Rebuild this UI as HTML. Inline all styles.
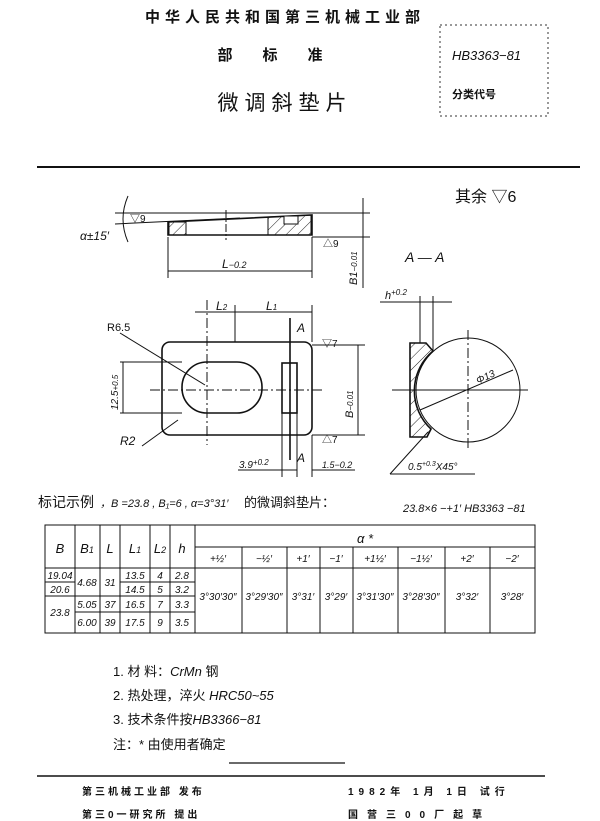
<!DOCTYPE html>
<html><head><meta charset="utf-8"><style>
body{margin:0;background:#fff;}
svg{display:block}
text{font-family:"Liberation Sans","Noto Sans CJK SC",sans-serif;fill:#111}
.it{font-style:italic}
</style></head><body>
<svg width="600" height="821" viewBox="0 0 600 821" xmlns="http://www.w3.org/2000/svg">
<defs>
<pattern id="h" width="8" height="8" patternUnits="userSpaceOnUse" patternTransform="rotate(45)"><line x1="0" y1="0" x2="0" y2="8" stroke="#222" stroke-width="1"/></pattern>
</defs>
<!-- header -->
<text x="285" y="22" font-size="15" font-weight="bold" text-anchor="middle" letter-spacing="5">中华人民共和国第三机械工业部</text>
<text x="285" y="60" font-size="15" font-weight="bold" text-anchor="middle" letter-spacing="30">部标准</text>
<text x="285" y="110" font-size="21" text-anchor="middle" letter-spacing="6">微调斜垫片</text>
<rect x="440" y="25" width="108" height="91" fill="none" stroke="#333" stroke-dasharray="2,3"/>
<text x="452" y="60" font-size="13" class="it">HB3363−81</text>
<text x="452" y="98" font-size="11" font-weight="bold">分类代号</text>
<line x1="37" y1="167" x2="580" y2="167" stroke="#111" stroke-width="2"/>
<text x="455" y="202" font-size="16">其余 ▽6</text>

<g stroke="#111" fill="none" stroke-width="1">
<!-- top view -->
<polygon points="168,222 312,215 312,235 168,235" stroke-width="1.6"/>
<rect x="169" y="222" width="17" height="13" fill="url(#h)"/>
<polygon points="268,217 311,215 311,235 268,235" fill="url(#h)"/>
<rect x="284" y="216" width="14" height="8" fill="#fff"/>
<line x1="186" y1="222" x2="186" y2="235"/><line x1="268" y1="217" x2="268" y2="235"/>
<line x1="226" y1="210" x2="226" y2="240" stroke-dasharray="8,2,2,2"/>
<line x1="115" y1="213" x2="370" y2="213"/>
<line x1="115" y1="224" x2="240" y2="218"/>
<line x1="312" y1="237" x2="370" y2="237"/>
<path d="M128,196 Q118,219 128,242"/>
<line x1="168" y1="237" x2="168" y2="278"/><line x1="312" y1="237" x2="312" y2="278"/>
<line x1="168" y1="271" x2="312" y2="271"/>
<line x1="363" y1="198" x2="363" y2="288"/>
<!-- plan view -->
<rect x="162" y="342" width="150" height="93" rx="8" stroke-width="1.6"/>
<rect x="182" y="362" width="80" height="51" rx="25" stroke-width="1.6"/>
<rect x="282" y="363" width="15" height="50" stroke-width="1.6"/>
<line x1="150" y1="390" x2="325" y2="390" stroke-dasharray="10,3,2,3"/>
<line x1="207" y1="300" x2="207" y2="445" stroke-dasharray="10,3,2,3"/>
<line x1="235" y1="305" x2="235" y2="342"/>
<line x1="312" y1="305" x2="312" y2="342"/>
<line x1="195" y1="312" x2="312" y2="312"/>
<line x1="290" y1="318" x2="290" y2="460" stroke-width="1.6"/>
<line x1="120" y1="333" x2="205" y2="385"/>
<line x1="142" y1="446" x2="178" y2="420"/>
<line x1="123" y1="362" x2="123" y2="413"/>
<line x1="120" y1="362" x2="182" y2="362"/><line x1="120" y1="413" x2="182" y2="413"/>
<line x1="312" y1="345" x2="365" y2="345"/><line x1="312" y1="435" x2="365" y2="435"/>
<line x1="358" y1="345" x2="358" y2="435"/>
<line x1="282" y1="413" x2="282" y2="477"/><line x1="297" y1="413" x2="297" y2="477"/>
<line x1="238" y1="470" x2="297" y2="470"/>
<line x1="312" y1="435" x2="312" y2="477"/><line x1="312" y1="470" x2="355" y2="470"/>
<!-- section -->
<circle cx="468" cy="390" r="52"/>
<line x1="392" y1="390" x2="528" y2="390"/>
<line x1="468" y1="330" x2="468" y2="448" stroke-dasharray="10,3,2,3"/>
<path d="M410,343 L426,343 L433,351 A52,52 0 0 0 431,429 L427,437 L410,437 Z" fill="url(#h)" stroke-width="1.6"/>
<line x1="420" y1="410" x2="513" y2="370"/>
<line x1="420" y1="296" x2="420" y2="343"/><line x1="433" y1="296" x2="433" y2="351"/>
<line x1="380" y1="302" x2="452" y2="302"/>
<line x1="390" y1="474" x2="428" y2="432"/><line x1="390" y1="474" x2="475" y2="474"/>
</g>
<text x="80" y="240" font-size="12" class="it">α±15′</text>
<text x="130" y="222" font-size="10">▽9</text>
<text x="323" y="247" font-size="10">△9</text>
<text x="222" y="268" font-size="12" class="it">L<tspan font-size="9">−0.2</tspan></text>
<text transform="translate(357,285) rotate(-90)" font-size="11" class="it">B1<tspan font-size="8">−0.01</tspan></text>
<text x="405" y="262" font-size="14" class="it">A — A</text>
<text x="216" y="310" font-size="12" class="it">L<tspan font-size="8">2</tspan></text>
<text x="266" y="310" font-size="12" class="it">L<tspan font-size="8">1</tspan></text>
<text x="297" y="332" font-size="12" class="it">A</text>
<text x="297" y="462" font-size="12" class="it">A</text>
<text x="107" y="331" font-size="11">R6.5</text>
<text x="120" y="445" font-size="12" class="it">R2</text>
<text transform="translate(118,410) rotate(-90)" font-size="10" class="it">12.5<tspan font-size="8">+0.5</tspan></text>
<text transform="translate(353,418) rotate(-90)" font-size="11" class="it">B<tspan font-size="8">−0.01</tspan></text>
<text x="322" y="347" font-size="10">▽7</text>
<text x="322" y="443" font-size="10">△7</text>
<text x="239" y="468" font-size="10" class="it">3.9<tspan font-size="8" dy="-3">+0.2</tspan></text>
<text x="322" y="468" font-size="9" class="it">1.5−0.2</text>
<text x="385" y="299" font-size="11" class="it">h<tspan font-size="8" dy="-4">+0.2</tspan></text>
<text transform="translate(478,384) rotate(-25)" font-size="10" class="it">Φ13</text>
<text x="408" y="470" font-size="10" class="it">0.5<tspan font-size="7" dy="-4">+0.3</tspan><tspan dy="4">X45°</tspan></text>
<!-- marking example -->
<text x="38" y="507" font-size="14">标记示例</text>
<text x="100" y="507" font-size="11" class="it">，B =23.8 , B₁=6 , α=3°31′</text>
<text x="244" y="507" font-size="13">的微调斜垫片：</text>
<text x="403" y="512" font-size="11" class="it">23.8×6 −+1′  HB3363 −81</text>
<!-- table -->
<g stroke="#111" stroke-width="1" fill="none">
<rect x="45" y="525" width="490" height="108"/>
<line x1="75" y1="525" x2="75" y2="633"/><line x1="100" y1="525" x2="100" y2="633"/>
<line x1="120" y1="525" x2="120" y2="633"/><line x1="150" y1="525" x2="150" y2="633"/>
<line x1="170" y1="525" x2="170" y2="633"/><line x1="195" y1="525" x2="195" y2="633"/>
<line x1="195" y1="547" x2="535" y2="547"/>
<line x1="45" y1="568" x2="535" y2="568"/>
<line x1="242" y1="547" x2="242" y2="633"/><line x1="287" y1="547" x2="287" y2="633"/>
<line x1="320" y1="547" x2="320" y2="633"/><line x1="353" y1="547" x2="353" y2="633"/>
<line x1="398" y1="547" x2="398" y2="633"/><line x1="445" y1="547" x2="445" y2="633"/>
<line x1="490" y1="547" x2="490" y2="633"/>
<line x1="45" y1="582" x2="75" y2="582"/><line x1="120" y1="582" x2="195" y2="582"/>
<line x1="45" y1="596" x2="75" y2="596"/><line x1="75" y1="596" x2="195" y2="596"/>
<line x1="75" y1="612" x2="195" y2="612"/>
</g>
<g font-size="13" text-anchor="middle" class="it">
<text x="60" y="553">B</text><text x="87" y="553">B<tspan font-size="9">1</tspan></text><text x="110" y="553">L</text>
<text x="135" y="553">L<tspan font-size="9">1</tspan></text><text x="160" y="553">L<tspan font-size="9">2</tspan></text><text x="182" y="553">h</text>
<text x="365" y="543">α *</text>
</g>
<g font-size="10" text-anchor="middle" class="it">
<text x="218" y="562">+½′</text><text x="264" y="562">−½′</text><text x="303" y="562">+1′</text><text x="336" y="562">−1′</text>
<text x="375" y="562">+1½′</text><text x="421" y="562">−1½′</text><text x="467" y="562">+2′</text><text x="512" y="562">−2′</text>
<text x="60" y="579">19.04</text><text x="60" y="593">20.6</text><text x="60" y="616">23.8</text>
<text x="87" y="586">4.68</text><text x="110" y="586">31</text>
<text x="135" y="579">13.5</text><text x="160" y="579">4</text><text x="182" y="579">2.8</text>
<text x="135" y="593">14.5</text><text x="160" y="593">5</text><text x="182" y="593">3.2</text>
<text x="87" y="608">5.05</text><text x="110" y="608">37</text><text x="135" y="608">16.5</text><text x="160" y="608">7</text><text x="182" y="608">3.3</text>
<text x="87" y="626">6.00</text><text x="110" y="626">39</text><text x="135" y="626">17.5</text><text x="160" y="626">9</text><text x="182" y="626">3.5</text>
<text x="218" y="600">3°30′30″</text><text x="264" y="600">3°29′30″</text><text x="303" y="600">3°31′</text><text x="336" y="600">3°29′</text>
<text x="375" y="600">3°31′30″</text><text x="421" y="600">3°28′30″</text><text x="467" y="600">3°32′</text><text x="512" y="600">3°28′</text>
</g>
<!-- notes -->
<g font-size="13">
<text x="113" y="676">1.  材  料：<tspan class="it">CrMn</tspan> 钢</text>
<text x="113" y="700">2.  热处理，淬火 <tspan class="it">HRC50~55</tspan></text>
<text x="113" y="724">3.  技术条件按<tspan class="it">HB3366−81</tspan></text>
<text x="113" y="749">注：* 由使用者确定</text>
</g>
<line x1="229" y1="763" x2="345" y2="763" stroke="#111" stroke-width="1.2"/>
<line x1="37" y1="776" x2="545" y2="776" stroke="#111" stroke-width="1.5"/>
<g font-size="10" font-weight="bold">
<text x="82" y="795" letter-spacing="3">第三机械工业部 发布</text>
<text x="82" y="818" letter-spacing="3">第三0一研究所 提出</text>
<text x="348" y="795" letter-spacing="5">1982年 1月 1日 试行</text>
<text x="348" y="818" letter-spacing="9">国营三00厂起草</text>
</g>
</svg>
</body></html>
